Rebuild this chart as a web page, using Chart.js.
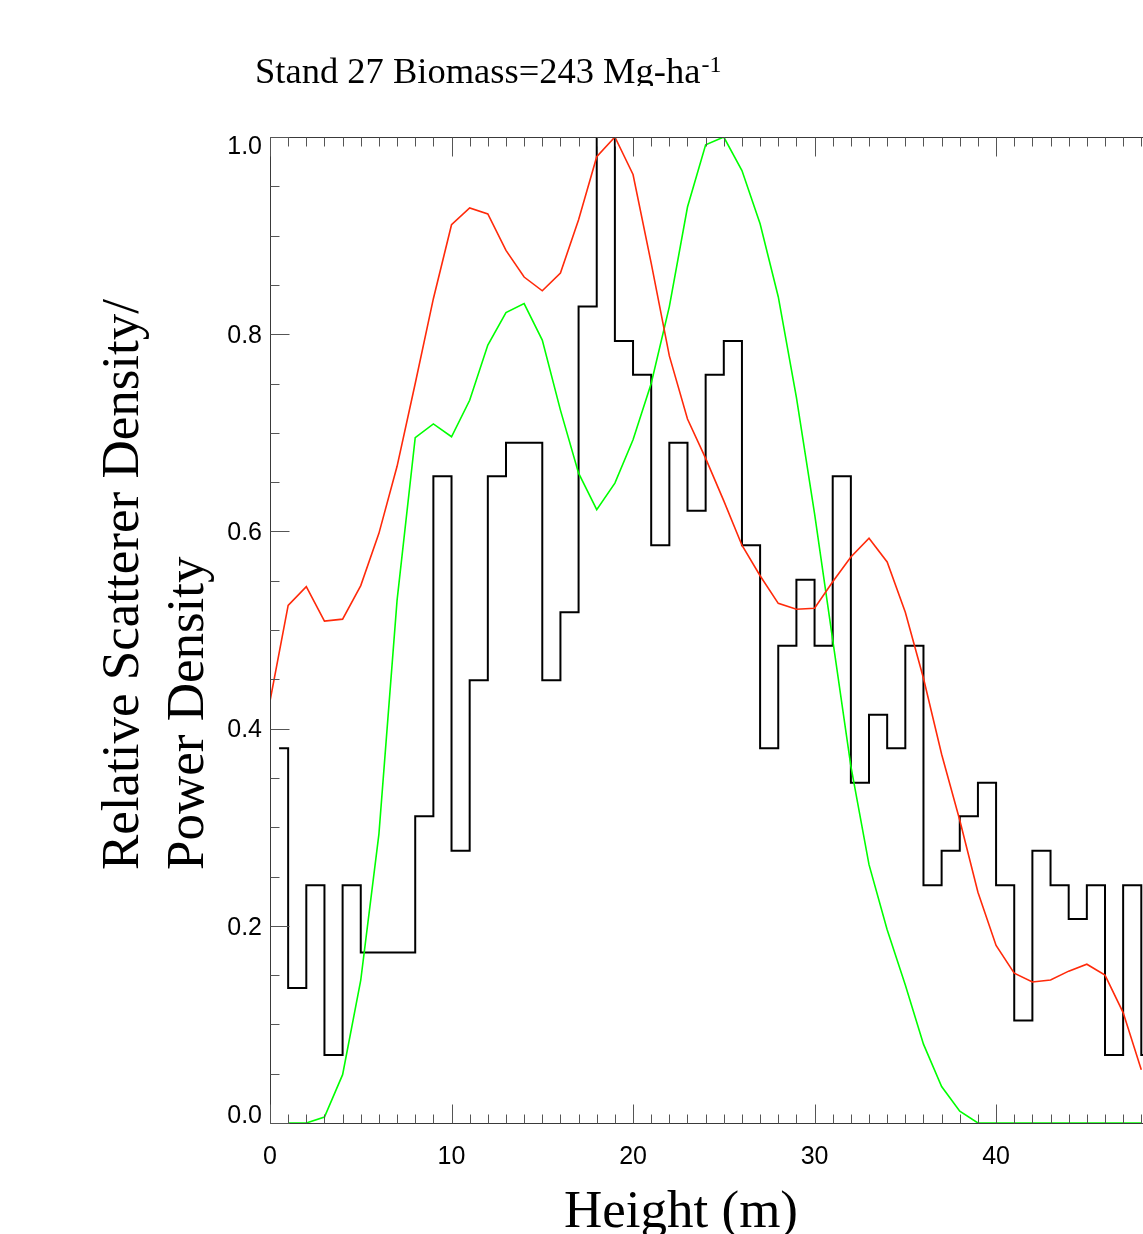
<!DOCTYPE html>
<html>
<head>
<meta charset="utf-8">
<script src="https://cdn.jsdelivr.net/npm/chart.js@4/dist/chart.umd.min.js"></script>
<style>
  html, body { margin: 0; padding: 0; background: #ffffff; overflow: hidden; }
  #wrap { width: 1143px; height: 1234px; overflow: hidden; position: relative; }
  canvas { display: block; }
</style>
</head>
<body>
<div id="wrap"><canvas id="c" width="1190" height="1234"></canvas></div>
<script>
// ---------------- data ----------------
const chartTitle = "Stand 27 Biomass=243 Mg-ha";
const chartTitleSup = "-1";
const xTitle = "Height (m)";
const yTitleLines = ["Relative Scatterer Density/", "Power Density"];

const xTickLabels = ["0", "10", "20", "30", "40"];
const xTickValues = [0, 10, 20, 30, 40];
const yTickLabels = ["0.0", "0.2", "0.4", "0.6", "0.8", "1.0"];
const yTickValues = [0, 0.2, 0.4, 0.6, 0.8, 1.0];

// scatterer-density histogram (bin centres, m) and relative values
const histHeights = [0.5, 1.5, 2.5, 3.5, 4.5, 5.5, 6.5, 7.5, 8.5, 9.5,
  10.5, 11.5, 12.5, 13.5, 14.5, 15.5, 16.5, 17.5, 18.5, 19.5,
  20.5, 21.5, 22.5, 23.5, 24.5, 25.5, 26.5, 27.5, 28.5, 29.5,
  30.5, 31.5, 32.5, 33.5, 34.5, 35.5, 36.5, 37.5, 38.5, 39.5,
  40.5, 41.5, 42.5, 43.5, 44.5, 45.5, 46.5, 47.5, 48.5];
const histValues = [0.380, 0.137, 0.241, 0.069, 0.241, 0.173, 0.173, 0.173, 0.311, 0.656,
  0.276, 0.449, 0.656, 0.690, 0.690, 0.449, 0.518, 0.828, 1.000, 0.793,
  0.759, 0.586, 0.690, 0.621, 0.759, 0.793, 0.586, 0.380, 0.484, 0.551,
  0.484, 0.656, 0.345, 0.414, 0.380, 0.484, 0.241, 0.276, 0.311, 0.345,
  0.241, 0.104, 0.276, 0.241, 0.207, 0.241, 0.069, 0.241, 0.069];

// red power-density curve
const redHeights = [0, 1, 2, 3, 4, 5, 6, 7, 8, 9, 10, 11, 12, 13, 14, 15, 16, 17, 18, 19,
  20, 21, 22, 23, 24, 25, 26, 27, 28, 29, 30, 31, 32, 33, 34, 35, 36, 37, 38, 39,
  40, 41, 42, 43, 44, 45, 46, 47, 48];
const redValues = [0.428, 0.525, 0.544, 0.509, 0.511, 0.545, 0.598, 0.666, 0.750, 0.836,
  0.911, 0.928, 0.922, 0.885, 0.858, 0.844, 0.862, 0.916, 0.980, 1.000,
  0.962, 0.872, 0.778, 0.714, 0.674, 0.631, 0.586, 0.555, 0.527, 0.521,
  0.522, 0.549, 0.574, 0.593, 0.569, 0.518, 0.451, 0.374, 0.307, 0.234,
  0.180, 0.152, 0.143, 0.145, 0.154, 0.161, 0.150, 0.112, 0.054];

// green power-density curve
const greenHeights = [1, 2, 3, 4, 5, 6, 7, 8, 9, 10, 11, 12, 13, 14, 15, 16, 17, 18, 19,
  20, 21, 22, 23, 24, 25, 26, 27, 28, 29, 30, 31, 32, 33, 34, 35, 36, 37, 38, 39,
  40, 41, 42, 43, 44, 45, 46, 47, 48];
const greenValues = [0.000, 0.000, 0.006, 0.049, 0.145, 0.293, 0.530, 0.695, 0.709,
  0.696, 0.733, 0.789, 0.822, 0.831, 0.794, 0.723, 0.659, 0.622, 0.649,
  0.693, 0.750, 0.828, 0.929, 0.992, 1.000, 0.966, 0.912, 0.838, 0.736,
  0.618, 0.490, 0.362, 0.262, 0.196, 0.140, 0.080, 0.037, 0.012, 0.000,
  0.000, 0.000, 0.000, 0.000, 0.000, 0.000, 0.000, 0.000, 0.000];

const xMin = 0, xMax = 50, yMin = 0, yMax = 1;
const xMinorStep = 1, yMinorStep = 0.05;

// ---------------- helpers ----------------
const pts = (xs, ys) => xs.map((x, i) => ({ x: x, y: ys[i] }));

const axesPlugin = {
  id: 'idlAxes',
  afterDraw(chart) {
    const ctx = chart.ctx;
    const a = chart.chartArea;
    const xs = chart.scales.x, ys = chart.scales.y;
    const L = Math.round(a.left) + 0.5, R = Math.round(a.right) + 0.5;
    const T = Math.round(a.top) + 0.5, B = Math.round(a.bottom) + 0.5;
    ctx.save();
    // frame
    ctx.strokeStyle = '#3a3a3a';
    ctx.lineWidth = 1;
    ctx.beginPath();
    ctx.moveTo(L, B); ctx.lineTo(L, T); ctx.lineTo(R, T); ctx.lineTo(R, B); ctx.closePath();
    ctx.stroke();
    // x ticks (inward, top and bottom)
    ctx.strokeStyle = '#555';
    for (let v = xMin; v <= xMax + 1e-9; v += xMinorStep) {
      const px = Math.round(xs.getPixelForValue(v)) + 0.5;
      const major = Math.abs(v % 10) < 1e-9;
      const len = major ? 19 : 9;
      ctx.beginPath();
      ctx.moveTo(px, B); ctx.lineTo(px, B - len);
      ctx.moveTo(px, T); ctx.lineTo(px, T + len);
      ctx.stroke();
    }
    // y ticks (inward, left and right)
    for (let k = 0; k <= Math.round((yMax - yMin) / yMinorStep); k++) {
      const v = yMin + k * yMinorStep;
      const py = Math.round(ys.getPixelForValue(v)) + 0.5;
      const major = k % 4 === 0;
      const len = major ? 19 : 9;
      ctx.beginPath();
      ctx.moveTo(L, py); ctx.lineTo(L + len, py);
      ctx.moveTo(R, py); ctx.lineTo(R - len, py);
      ctx.stroke();
    }
    // tick labels
    ctx.fillStyle = '#000';
    ctx.font = '25px "Liberation Sans", Arial, sans-serif';
    ctx.textAlign = 'center';
    ctx.textBaseline = 'middle';
    xTickValues.forEach((v, i) => {
      ctx.fillText(xTickLabels[i], xs.getPixelForValue(v), a.bottom + 34);
    });
    ctx.textAlign = 'right';
    yTickValues.forEach((v, i) => {
      let py = ys.getPixelForValue(v) + 2;
      py = Math.max(a.top + 10, Math.min(a.bottom - 7, py));
      ctx.fillText(yTickLabels[i], a.left - 8, py);
    });
    // x title
    ctx.textBaseline = 'alphabetic';
    ctx.textAlign = 'center';
    ctx.font = '53px "Liberation Serif", "Times New Roman", serif';
    ctx.fillText(xTitle, 681, 1227);
    // y title (two rotated lines, aligned at their start)
    ctx.textAlign = 'left';
    const baseX = [138, 203];
    yTitleLines.forEach((t, i) => {
      ctx.save();
      ctx.translate(baseX[i], 870);
      ctx.rotate(-Math.PI / 2);
      ctx.fillText(t, 0, 0);
      ctx.restore();
    });
    // main title (clipped just under the baseline like the reference)
    ctx.save();
    ctx.beginPath();
    ctx.rect(0, 0, chart.width, 86);
    ctx.clip();
    ctx.font = '36.5px "Liberation Serif", "Times New Roman", serif';
    ctx.textAlign = 'left';
    ctx.fillText(chartTitle, 255, 83);
    const w = ctx.measureText(chartTitle).width;
    ctx.font = '24px "Liberation Serif", "Times New Roman", serif';
    ctx.fillText(chartTitleSup, 255 + w + 1, 72);
    ctx.restore();
    ctx.restore();
  }
};

new Chart(document.getElementById('c'), {
  type: 'line',
  data: {
    datasets: [
      {
        label: 'Scatterer density',
        data: pts(histHeights, histValues),
        borderColor: '#000000',
        borderWidth: 2,
        stepped: 'middle',
        pointRadius: 0,
        fill: false,
        order: 3
      },
      {
        label: 'Power density (green)',
        data: pts(greenHeights, greenValues),
        borderColor: '#00ff00',
        borderWidth: 1.6,
        tension: 0,
        pointRadius: 0,
        fill: false,
        order: 2
      },
      {
        label: 'Power density (red)',
        data: pts(redHeights, redValues),
        borderColor: '#ff2a0a',
        borderWidth: 1.6,
        tension: 0,
        pointRadius: 0,
        fill: false,
        order: 1
      }
    ]
  },
  options: {
    responsive: false,
    animation: false,
    devicePixelRatio: 1,
    layout: { padding: { left: 270, top: 137, right: 12.4, bottom: 111 } },
    scales: {
      x: { type: 'linear', min: xMin, max: xMax, display: false },
      y: { type: 'linear', min: yMin, max: yMax, display: false }
    },
    plugins: {
      legend: { display: false },
      tooltip: { enabled: false },
      title: { display: false }
    }
  },
  plugins: [axesPlugin]
});
</script>
</body>
</html>
